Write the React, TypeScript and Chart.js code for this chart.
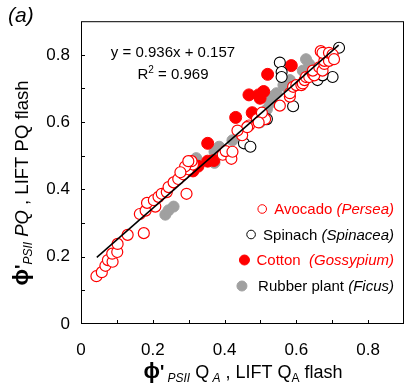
import React, { useEffect, useRef } from "react";
import { Chart, registerables } from "chart.js";

Chart.register(...registerables);

// ---- data ----
const avocadoX = [0.043,0.058,0.068,0.075,0.088,0.087,0.101,0.102,0.130,0.175,0.164,0.180,0.207,0.184,0.203,0.216,0.225,0.239,0.294,0.244,0.258,0.271,0.285,0.299,0.312,0.308,0.290,0.277,0.395,0.419,0.403,0.449,0.468,0.490,0.513,0.504,0.554,0.582,0.582,0.591,0.600,0.614,0.618,0.623,0.627,0.636,0.646,0.650,0.646,0.664,0.673,0.678,0.678,0.691,0.668,0.673,0.691,0.701,0.705,0.495,0.463,0.422,0.299,0.436];
const avocadoY = [0.142,0.154,0.173,0.190,0.185,0.209,0.214,0.238,0.265,0.270,0.327,0.337,0.349,0.360,0.368,0.378,0.387,0.392,0.387,0.407,0.421,0.431,0.445,0.460,0.474,0.484,0.468,0.451,0.503,0.491,0.514,0.561,0.590,0.609,0.609,0.628,0.649,0.676,0.686,0.705,0.710,0.710,0.715,0.725,0.734,0.734,0.744,0.739,0.753,0.763,0.753,0.773,0.782,0.782,0.811,0.806,0.806,0.801,0.787,0.599,0.585,0.512,0.484,0.575];

const spinachX = [0.719,0.554,0.559,0.559,0.701,0.659,0.673,0.591,0.454,0.472,0.518];
const spinachY = [0.821,0.777,0.749,0.734,0.734,0.725,0.739,0.647,0.537,0.527,0.609];

const cottonX = [0.520,0.586,0.468,0.495,0.509,0.499,0.477,0.431,0.353,0.353,0.326,0.312,0.370];
const cottonY = [0.742,0.768,0.681,0.681,0.691,0.671,0.628,0.614,0.537,0.484,0.469,0.455,0.486];

const rubberX = [0.627,0.618,0.582,0.564,0.572,0.545,0.527,0.518,0.499,0.422,0.385,0.372,0.321,0.235,0.258,0.244,0.372,0.532,0.636];
const rubberY = [0.787,0.753,0.725,0.710,0.705,0.686,0.657,0.638,0.599,0.546,0.527,0.512,0.493,0.325,0.349,0.338,0.479,0.676,0.772];

const fitSlope = 0.936;
const fitIntercept = 0.157;
const fitR2 = 0.969;
const fitXRange = [0.044, 0.718];

const axisMin = 0;
const axisMax = 0.9;
const tickStep = 0.1;

const legendNames = ["Avocado ", "Spinach ", "Cotton  ", " Rubber plant "];
const legendGenus = ["(Persea)", "(Spinacea)", "(Gossypium)", "(Ficus)"];

const RED = "#FF0000";
const GREY = "#A0A0A0";
const BLACK = "#000000";
const FONT = "'Liberation Sans', Arial, sans-serif";

const toPts = (xs: number[], ys: number[]) => xs.map((x, i) => ({ x, y: ys[i] }));

type Seg = { text: string; font: string; dy?: number; color?: string };

function drawRich(ctx: CanvasRenderingContext2D, segs: Seg[], cx: number, cy: number, rotate: boolean, baseOff: number) {
  ctx.save();
  ctx.translate(cx, cy);
  if (rotate) ctx.rotate(-Math.PI / 2);
  let total = 0;
  const widths = segs.map((s) => {
    ctx.font = s.font;
    const w = ctx.measureText(s.text).width;
    total += w;
    return w;
  });
  let x = -total / 2;
  ctx.textBaseline = "alphabetic";
  ctx.textAlign = "left";
  segs.forEach((s, i) => {
    ctx.font = s.font;
    ctx.fillStyle = s.color || "#000";
    ctx.fillText(s.text, x, baseOff + (s.dy || 0));
    x += widths[i];
  });
  ctx.restore();
}

const decorPlugin = {
  id: "decor",
  afterDatasetsDraw(chart: any) {
    const ctx: CanvasRenderingContext2D = chart.ctx;
    const { left, right, top, bottom } = chart.chartArea;
    const xs = chart.scales.x;
    const ys = chart.scales.y;
    ctx.save();
    ctx.strokeStyle = "#000";
    ctx.lineWidth = 1;
    ctx.strokeRect(left + 0.5, top + 0.5, right - left - 1, bottom - top - 1);
    ctx.beginPath();
    for (let i = 1; i * tickStep < axisMax - 1e-6; i++) {
      const v = i * tickStep;
      const px = Math.round(xs.getPixelForValue(v)) + 0.5;
      ctx.moveTo(px, bottom);
      ctx.lineTo(px, bottom - 4);
      const py = Math.round(ys.getPixelForValue(v)) + 0.5;
      ctx.moveTo(left, py);
      ctx.lineTo(left + 4, py);
    }
    ctx.stroke();
    ctx.restore();
  },
  afterDraw(chart: any) {
    const ctx: CanvasRenderingContext2D = chart.ctx;
    const { left, top } = chart.chartArea;
    ctx.save();
    ctx.font = `italic 21px ${FONT}`;
    ctx.fillStyle = "#000";
    ctx.textAlign = "left";
    ctx.textBaseline = "middle";
    ctx.fillText("(a)", 8, 16);

    ctx.font = `15px ${FONT}`;
    ctx.textAlign = "center";
    ctx.fillText(`y = ${fitSlope}x + ${fitIntercept}`, left + 92, top + 32);
    drawRich(
      ctx,
      [
        { text: "R", font: `15px ${FONT}` },
        { text: "2", font: `10px ${FONT}`, dy: -6 },
        { text: ` = ${fitR2}`, font: `15px ${FONT}` },
      ],
      left + 92,
      top + 53,
      false,
      5
    );

    const tf = 18.5;
    drawRich(
      ctx,
      [
        { text: "ϕ", font: `bold 22px ${FONT}` },
        { text: "'", font: `bold ${tf}px ${FONT}` },
        { text: "PSII", font: `italic 12px ${FONT}`, dy: 4 },
        { text: " PQ", font: `italic ${tf}px ${FONT}` },
        { text: " , LIFT PQ flash", font: `${tf}px ${FONT}` },
      ],
      22,
      183,
      true,
      6
    );
    drawRich(
      ctx,
      [
        { text: "ϕ", font: `bold 22px ${FONT}` },
        { text: "'", font: `bold 18px ${FONT}` },
        { text: " PSII", font: `italic 12px ${FONT}`, dy: 4 },
        { text: " Q", font: `18px ${FONT}` },
        { text: " A", font: `italic 12px ${FONT}`, dy: 4 },
        { text: " , LIFT Q", font: `18px ${FONT}` },
        { text: "A", font: `12px ${FONT}`, dy: 4 },
        { text: " flash", font: `18px ${FONT}` },
      ],
      243,
      372,
      false,
      6
    );

    const colors = [RED, BLACK, RED, BLACK];
    const markerStroke = [RED, BLACK, RED, GREY];
    const markerFill = ["#fff", "#fff", RED, GREY];
    const rowY = [210, 235.5, 261, 287];
    const rightX = 394;
    legendNames.forEach((nm, i) => {
      ctx.font = `15px ${FONT}`;
      const w1 = ctx.measureText(nm).width;
      ctx.font = `italic 15px ${FONT}`;
      const w2 = ctx.measureText(legendGenus[i]).width;
      const start = rightX - w1 - w2;
      ctx.textAlign = "left";
      ctx.textBaseline = "middle";
      ctx.fillStyle = colors[i];
      ctx.font = `15px ${FONT}`;
      ctx.fillText(nm, start, rowY[i]);
      ctx.font = `italic 15px ${FONT}`;
      ctx.fillText(legendGenus[i], start + w1, rowY[i]);
      ctx.beginPath();
      ctx.arc(start - 12, rowY[i] - 1, i < 2 ? 4.3 : 5, 0, Math.PI * 2);
      ctx.fillStyle = markerFill[i];
      ctx.fill();
      ctx.lineWidth = 1;
      ctx.strokeStyle = markerStroke[i];
      ctx.stroke();
    });
    ctx.restore();
  },
};

export default function App() {
  const ref = useRef<HTMLCanvasElement | null>(null);
  useEffect(() => {
    if (!ref.current) return;
    const fitLine = fitXRange.map((x) => ({ x, y: fitSlope * x + fitIntercept }));
    const tickFont = { family: FONT, size: 17 };
    const tickCb = (v: any) => {
      const k = Math.round(Number(v) * 10);
      return k % 2 === 0 ? (k === 0 ? "0" : (k / 10).toFixed(1)) : "";
    };
    const chart = new Chart(ref.current, {
      type: "scatter",
      data: {
        datasets: [
          {
            type: "line",
            data: fitLine,
            borderColor: "#000",
            borderWidth: 1.5,
            pointRadius: 0,
            order: 0,
          } as any,
          {
            data: toPts(avocadoX, avocadoY),
            pointRadius: 5.5,
            pointBackgroundColor: "#fff",
            pointBorderColor: RED,
            pointBorderWidth: 1.2,
            order: 1,
          },
          {
            data: toPts(spinachX, spinachY),
            pointRadius: 5.5,
            pointBackgroundColor: "#fff",
            pointBorderColor: BLACK,
            pointBorderWidth: 1.1,
            order: 2,
          },
          {
            data: toPts(cottonX, cottonY),
            pointRadius: 6,
            pointBackgroundColor: RED,
            pointBorderColor: RED,
            pointBorderWidth: 1,
            order: 3,
          },
          {
            data: toPts(rubberX, rubberY),
            pointRadius: 5.5,
            pointBackgroundColor: GREY,
            pointBorderColor: GREY,
            pointBorderWidth: 1,
            order: 4,
          },
        ],
      },
      options: {
        animation: false,
        responsive: false,
        events: [],
        layout: { padding: { top: 14, right: 11, left: 0, bottom: 0 } },
        plugins: { legend: { display: false }, tooltip: { enabled: false } },
        scales: {
          x: {
            type: "linear",
            min: axisMin,
            max: axisMax,
            grid: { display: false, drawTicks: false },
            border: { display: false },
            ticks: {
              stepSize: tickStep,
              padding: 16,
              color: "#000",
              font: tickFont,
              maxRotation: 0,
              autoSkip: false,
              callback: tickCb,
            },
            afterFit: (s: any) => {
              s.height = 61;
            },
          },
          y: {
            type: "linear",
            min: axisMin,
            max: axisMax,
            grid: { display: false, drawTicks: false },
            border: { display: false },
            ticks: {
              stepSize: tickStep,
              padding: 11,
              color: "#000",
              font: tickFont,
              autoSkip: false,
              callback: tickCb,
            },
            afterFit: (s: any) => {
              s.width = 81;
            },
          },
        },
      },
      plugins: [decorPlugin],
    } as any);
    return () => chart.destroy();
  }, []);
  return (
    <div style={{ position: "fixed", left: 0, top: 0, width: 420, height: 385, background: "#fff" }}>
      <canvas ref={ref} width={420} height={385} style={{ display: "block" }} />
    </div>
  );
}
